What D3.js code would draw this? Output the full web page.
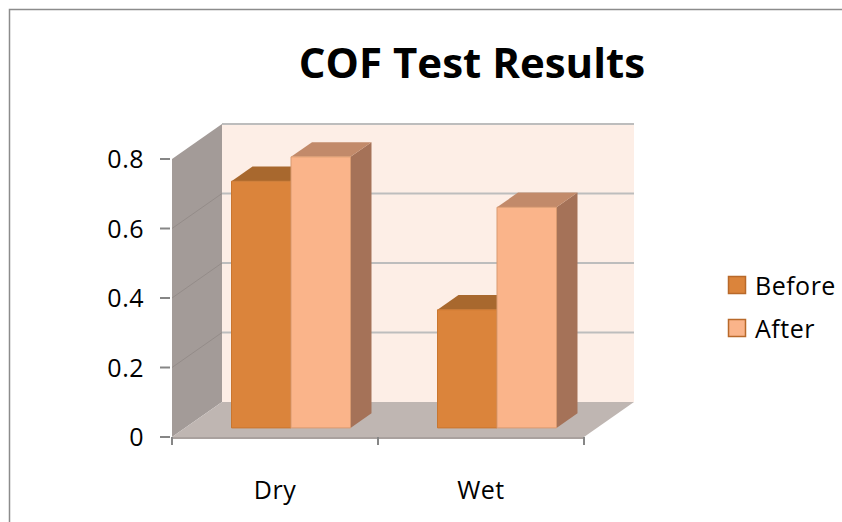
<!DOCTYPE html>
<html lang="en">
<head>
    <meta charset="UTF-8">
    <title>COF Test Results</title>
    <script src="https://d3js.org/d3.v7.min.js"></script>
    <style>
        body { margin: 0; background: #fff; }
        svg text { font-family: "Open Sans", sans-serif; fill: #000; }
        .title { font-size: 42px; font-weight: bold; }
        .tick-label { font-size: 25px; letter-spacing: 0.5px; }
        .legend-label { font-size: 25px; letter-spacing: 0.5px; }
    </style>
</head>
<body>
    <div id="chart"></div>

    <script>
        // Data
        const categories = ["Dry", "Wet"];
        const series = ["Before", "After"];
        const before = [0.71, 0.34];
        const after = [0.78, 0.635];
        const yTicks = [0, 0.2, 0.4, 0.6, 0.8];

        const colors = {
            Before: {front: "#DB843B", top: "#A8682E", side: "#A06A45", stroke: "#C9762F"},
            After:  {front: "#FAB48A", top: "#C28A6A", side: "#A57258", stroke: "#D99A70"}
        };

        const W = 842, H = 522;

        // plot frame (front plane)
        const plotLeft = 172, plotRight = 584, plotBottom = 437, plotTop = 159;
        const depthX = 50, depthY = 35;   // wall depth offset

        const svg = d3.select("#chart")
            .append("svg")
            .attr("width", W)
            .attr("height", H);

        // Outer chart border
        svg.append("rect")
            .attr("x", 9.5).attr("y", 9.5)
            .attr("width", W).attr("height", H)
            .attr("fill", "none")
            .attr("stroke", "#8c8c8c")
            .attr("stroke-width", 1.5);

        // Scales
        const y = d3.scaleLinear().domain([0, 0.8]).range([plotBottom, plotTop]);
        const x0 = d3.scaleBand().domain(categories).range([0, plotRight - plotLeft]);
        const x1 = d3.scaleBand().domain(series).range([0, 119]);

        // project (x, value, z) with z in 0..1 (0 = front, 1 = back)
        const P = (px, v, z) => [plotLeft + px + z * depthX, y(v) - z * depthY];
        const poly = pts => pts.map(p => p.join(",")).join(" ");

        const yMax = y.domain()[1];
        const plotW = plotRight - plotLeft;

        // Side wall
        svg.append("polygon")
            .attr("points", poly([P(0, 0, 0), P(0, yMax, 0), P(0, yMax, 1), P(0, 0, 1)]))
            .attr("fill", "#A39B98");

        // side wall gridlines
        svg.selectAll(".side-grid")
            .data(yTicks.slice(1, -1))
            .enter().append("line")
            .attr("x1", d => P(0, d, 0)[0]).attr("y1", d => P(0, d, 0)[1])
            .attr("x2", d => P(0, d, 1)[0]).attr("y2", d => P(0, d, 1)[1])
            .attr("stroke", "#948c89")
            .attr("stroke-width", 1);

        // Floor
        svg.append("polygon")
            .attr("points", poly([P(0, 0, 0), P(plotW, 0, 0), P(plotW, 0, 1), P(0, 0, 1)]))
            .attr("fill", "#BFB6B2");

        // Back wall
        svg.append("polygon")
            .attr("points", poly([P(0, 0, 1), P(0, yMax, 1), P(plotW, yMax, 1), P(plotW, 0, 1)]))
            .attr("fill", "#FDEEE6");

        // back wall gridlines
        svg.selectAll(".back-grid")
            .data(yTicks.slice(1))
            .enter().append("line")
            .attr("x1", d => P(0, d, 1)[0]).attr("y1", d => P(0, d, 1)[1])
            .attr("x2", d => P(plotW, d, 1)[0]).attr("y2", d => P(plotW, d, 1)[1])
            .attr("stroke", "#BDBDBD")
            .attr("stroke-width", 2);

        // Bars
        const zFront = 0.26, zBack = 0.68;
        const groupOffset = (x0.bandwidth() - x1.range()[1]) / 2 + 3;
        const barData = [];
        categories.forEach((c, i) => {
            barData.push({cat: c, s: "Before", v: before[i]});
            barData.push({cat: c, s: "After", v: after[i]});
        });

        const bars = svg.selectAll(".bar")
            .data(barData)
            .enter().append("g")
            .attr("class", "bar");

        const bx0 = d => x0(d.cat) + groupOffset + x1(d.s);
        const bx1 = d => bx0(d) + x1.bandwidth();

        // side face
        bars.append("polygon")
            .attr("points", d => poly([P(bx1(d), 0, zFront), P(bx1(d), d.v, zFront), P(bx1(d), d.v, zBack), P(bx1(d), 0, zBack)]))
            .attr("fill", d => colors[d.s].side);
        // top face
        bars.append("polygon")
            .attr("points", d => poly([P(bx0(d), d.v, zFront), P(bx1(d), d.v, zFront), P(bx1(d), d.v, zBack), P(bx0(d), d.v, zBack)]))
            .attr("fill", d => colors[d.s].top);
        // front face
        bars.append("polygon")
            .attr("points", d => poly([P(bx0(d), 0, zFront), P(bx0(d), d.v, zFront), P(bx1(d), d.v, zFront), P(bx1(d), 0, zFront)]))
            .attr("fill", d => colors[d.s].front)
            .attr("stroke", d => colors[d.s].stroke)
            .attr("stroke-width", 1);

        // Axes lines and ticks
        const axisColor = "#868686";
        svg.append("line")
            .attr("x1", plotLeft).attr("y1", plotBottom + 1)
            .attr("x2", P(plotW, 0, 0)[0]).attr("y2", plotBottom + 1)
            .attr("stroke", "#a9a19e").attr("stroke-width", 2);

        svg.selectAll(".ytick")
            .data(yTicks)
            .enter().append("line")
            .attr("x1", plotLeft - 12).attr("x2", plotLeft - 2)
            .attr("y1", d => y(d)).attr("y2", d => y(d))
            .attr("stroke", axisColor).attr("stroke-width", 2);

        svg.selectAll(".ylabel")
            .data(yTicks)
            .enter().append("text")
            .attr("class", "tick-label")
            .attr("x", plotLeft - 28)
            .attr("y", d => y(d) + 9)
            .attr("text-anchor", "end")
            .text(d => d === 0 ? "0" : d3.format(".1f")(d));

        // x ticks at band edges
        svg.selectAll(".xtick")
            .data([0, x0.bandwidth(), plotW])
            .enter().append("line")
            .attr("x1", d => plotLeft + d).attr("x2", d => plotLeft + d)
            .attr("y1", plotBottom).attr("y2", plotBottom + 8)
            .attr("stroke", axisColor).attr("stroke-width", 2);

        svg.selectAll(".xlabel")
            .data(categories)
            .enter().append("text")
            .attr("class", "tick-label")
            .attr("x", d => plotLeft + x0(d) + x0.bandwidth() / 2)
            .attr("y", 499)
            .attr("text-anchor", "middle")
            .text(d => d);

        // Title
        svg.append("text")
            .attr("class", "title")
            .attr("x", 472)
            .attr("y", 78)
            .attr("text-anchor", "middle")
            .text("COF Test Results");

        // Legend
        const legend = svg.selectAll(".legend")
            .data(series)
            .enter().append("g")
            .attr("transform", (d, i) => `translate(728, ${276 + i * 43})`);

        legend.append("rect")
            .attr("x", 0.5).attr("y", 0.5)
            .attr("width", 17).attr("height", 17)
            .attr("fill", d => colors[d].front)
            .attr("stroke", "#B8692A")
            .attr("stroke-width", 1.5);

        legend.append("text")
            .attr("class", "legend-label")
            .attr("x", 27)
            .attr("y", 19)
            .text(d => d);
    </script>
</body>
</html>
